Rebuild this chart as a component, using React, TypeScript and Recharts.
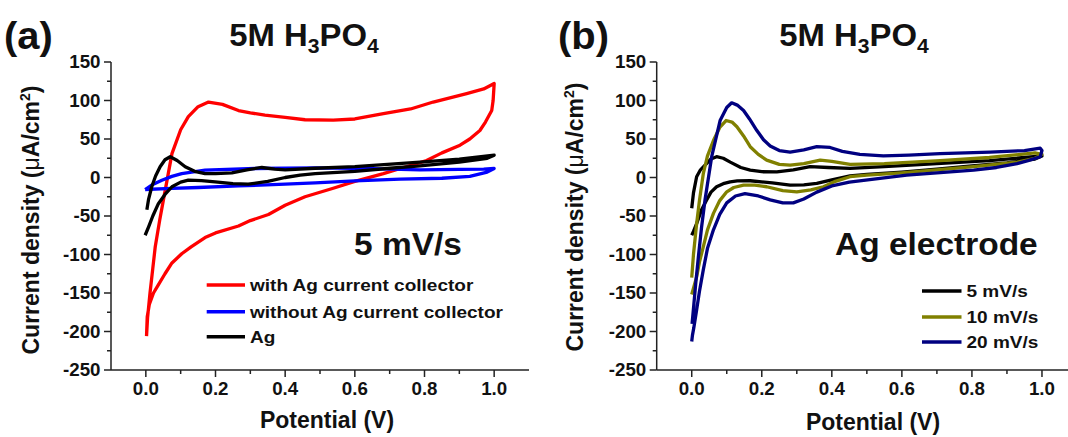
import React from "react";
import { LineChart, Line, XAxis, YAxis } from "recharts";

const FONT = "'Liberation Sans', Arial, Helvetica, sans-serif";
const AXIS = "#222";

// tick values
const xTickValues = [0, 0.1, 0.2, 0.3, 0.4, 0.5, 0.6, 0.7, 0.8, 0.9, 1.0];
const yTickValues = [
  -250, -225, -200, -175, -150, -125, -100, -75, -50, -25, 0, 25, 50, 75, 100, 125, 150,
];

// panel (a): 5 mV/s, potential (V) and current density (uA/cm2)
const withAgV = [
  0.002, 0.005, 0.012, 0.02, 0.027, 0.04, 0.055, 0.075, 0.1, 0.122, 0.15, 0.18, 0.22, 0.266,
  0.3, 0.342, 0.4, 0.457, 0.538, 0.6, 0.682, 0.76, 0.825, 0.921, 0.97, 1.0, 0.997, 0.993, 0.975,
  0.959, 0.93, 0.902, 0.85, 0.806, 0.74, 0.682, 0.6, 0.538, 0.457, 0.4, 0.352, 0.3, 0.266, 0.2,
  0.17, 0.13, 0.103, 0.075, 0.055, 0.035, 0.022, 0.01, 0.004, 0.002,
];
const withAgI = [
  -206, -182, -150, -118, -90, -55, -18, 31, 62, 79, 92, 98, 95, 87, 84, 81, 78, 75, 74.5, 76, 83,
  89, 98, 109, 115, 122, 100, 87, 72, 61, 50, 42, 32, 22, 13, 5, -5, -14, -25, -36, -48, -56,
  -63, -72, -78, -90, -99, -111, -125, -140, -150, -165, -181, -206,
];

const withoutAgV = [
  -0.002, 0.02, 0.046, 0.075, 0.103, 0.17, 0.314, 0.486, 0.65, 0.787, 0.9, 0.97, 1.0, 0.98,
  0.93, 0.85, 0.73, 0.6, 0.486, 0.4, 0.266, 0.15, 0.075, -0.002,
];
const withoutAgI = [
  -15.6, -9, -3.5, 1.5, 5, 9.5, 11.7, 12.5, 11.5, 10, 10.5, 11, 11.7, 7, 1.5, -1, -2, -4.5, -7,
  -8.5, -11, -13, -14, -15.6,
];

const agV = [
  0.003, 0.008, 0.017, 0.028, 0.041, 0.055, 0.07, 0.09, 0.113, 0.14, 0.17, 0.2, 0.247, 0.29,
  0.333, 0.37, 0.4, 0.486, 0.6, 0.787, 0.9, 1.0, 0.98, 0.9, 0.787, 0.7, 0.6, 0.486, 0.443, 0.4,
  0.35, 0.294, 0.25, 0.199, 0.16, 0.122, 0.1, 0.075, 0.055, 0.036, 0.02, 0.008, -0.002,
];
const agI = [
  -42, -28, -12, 2, 14, 23, 27, 22, 14, 8, 5, 5, 6, 10, 13, 11, 10, 12, 14, 20, 24, 29, 25, 20,
  15, 12, 8, 5, 3, 0, -5, -8.7, -8, -5.7, -4, -3.5, -6, -12, -22, -34, -50, -64, -75,
];

// panel (b): Ag electrode at three scan rates
const rate5V = [
  0.0, 0.005, 0.014, 0.025, 0.038, 0.055, 0.071, 0.09, 0.11, 0.14, 0.167, 0.2, 0.243, 0.29,
  0.338, 0.39, 0.452, 0.55, 0.7, 0.85, 1.0, 0.98, 0.9, 0.8, 0.7, 0.6, 0.5, 0.452, 0.4, 0.357,
  0.32, 0.281, 0.23, 0.167, 0.13, 0.11, 0.09, 0.071, 0.055, 0.043, 0.028, 0.014, 0.005, 0.0,
];
const rate5I = [
  -40, -20, 1, 10, 16, 24, 27, 25, 20, 13, 9.6, 7.5, 7.4, 10, 14, 13, 11.8, 14, 18, 22, 28, 24,
  19, 15, 11, 7, 4, 2, -3, -7.7, -9.5, -10, -7, -4.2, -4.5, -5.6, -8, -12, -19, -29, -42, -60,
  -70, -75,
];

const rate10V = [
  0.0, 0.005, 0.014, 0.022, 0.033, 0.045, 0.062, 0.08, 0.098, 0.115, 0.129, 0.148, 0.167, 0.19,
  0.214, 0.25, 0.281, 0.32, 0.367, 0.4, 0.452, 0.55, 0.709, 0.85, 0.98, 1.0, 0.98, 0.93, 0.805,
  0.7, 0.6, 0.5, 0.452, 0.41, 0.376, 0.34, 0.3, 0.26, 0.214, 0.18, 0.148, 0.12, 0.1, 0.08,
  0.062, 0.045, 0.033, 0.022, 0.014, 0.006, 0.0,
];
const rate10I = [
  -130, -100, -60, -30, 5, 28, 48, 65, 74, 72, 66, 54, 40, 30, 22.5, 17, 16, 18, 22.5, 21, 17,
  18, 22, 26, 32, 30, 25, 20, 14, 10, 6, 3, 1, -5, -12, -16, -18.6, -17, -12, -10, -10, -13,
  -18.6, -30, -46.6, -68, -90, -110, -129, -142, -152,
];

const rate20V = [
  0.001, 0.006, 0.012, 0.019, 0.028, 0.038, 0.057, 0.081, 0.1, 0.114, 0.13, 0.148, 0.165, 0.186,
  0.205, 0.224, 0.25, 0.281, 0.32, 0.357, 0.395, 0.43, 0.48, 0.547, 0.62, 0.709, 0.852, 0.95,
  0.995, 1.0, 0.995, 0.96, 0.929, 0.87, 0.805, 0.7, 0.614, 0.52, 0.45, 0.4, 0.357, 0.32, 0.29,
  0.26, 0.224, 0.19, 0.152, 0.125, 0.1, 0.08, 0.062, 0.045, 0.033, 0.022, 0.014, 0.006, 0.002,
  0.0,
];
const rate20I = [
  -190, -165, -135, -103, -65, -29, 27, 74, 91, 97, 94, 87, 76, 61, 49, 41, 35, 33, 36, 40, 39,
  34, 30, 28, 29, 31, 33, 35, 38, 35, 27, 22, 18, 13, 9.5, 6, 3, -2, -6, -11, -19, -28, -33,
  -33, -29, -24, -21, -24, -33, -48, -68, -92, -120, -148, -172, -195, -205, -213,
];

const zip = (v: number[], i: number[]) => v.map((x, k) => ({ v: x, i: i[k] }));

const seriesA = [
  { name: "with Ag current collector", color: "#ff0000", data: zip(withAgV, withAgI) },
  { name: "without Ag current collector", color: "#0000ff", data: zip(withoutAgV, withoutAgI) },
  { name: "Ag", color: "#000000", data: zip(agV, agI) },
];

const seriesB = [
  { name: "5 mV/s", color: "#000000", data: zip(rate5V, rate5I) },
  { name: "10 mV/s", color: "#808000", data: zip(rate10V, rate10I) },
  { name: "20 mV/s", color: "#000080", data: zip(rate20V, rate20I) },
];

const XTick = (props: any) => {
  const { x, y, payload } = props;
  const v = payload.value;
  const major = Math.round(v * 10) % 2 === 0;
  return (
    <g>
      <line x1={x} y1={y} x2={x} y2={y + (major ? 7 : 4)} stroke={AXIS} strokeWidth={1.5} />
      {major && (
        <text
          transform={`translate(${x},${y + 25}) scale(1.07,1)`}
          textAnchor="middle"
          fontSize={17.5}
          fontWeight="bold"
          fontFamily={FONT}
          fill="#111"
        >
          {v.toFixed(1)}
        </text>
      )}
    </g>
  );
};

const YTick = (props: any) => {
  const { x, y, payload } = props;
  const v = payload.value;
  const major = v % 50 === 0;
  return (
    <g>
      <line x1={x} y1={y} x2={x - (major ? 7 : 4)} y2={y} stroke={AXIS} strokeWidth={1.5} />
      {major && (
        <text
          transform={`translate(${x - 10.5},${y + 6.3}) scale(1.07,1)`}
          textAnchor="end"
          fontSize={17.5}
          fontWeight="bold"
          fontFamily={FONT}
          fill="#111"
        >
          {v}
        </text>
      )}
    </g>
  );
};

const Panel = ({ left, width, marginLeft, series }: any) => (
  <div style={{ position: "absolute", left, top: 0 }}>
    <LineChart width={width} height={437} margin={{ top: 62, right: 5, bottom: 7, left: marginLeft }}>
      <XAxis
        dataKey="v"
        type="number"
        domain={[-0.1, 1.1]}
        allowDataOverflow
        ticks={xTickValues}
        interval={0}
        tick={XTick}
        tickLine={false}
        tickSize={0}
        tickMargin={0}
        height={60}
        axisLine={{ stroke: AXIS, strokeWidth: 1.5 }}
      />
      <XAxis
        xAxisId="top"
        orientation="top"
        type="number"
        domain={[-0.1, 1.1]}
        tick={false}
        tickLine={false}
        height={0}
        axisLine={{ stroke: AXIS, strokeWidth: 1.5 }}
      />
      <YAxis
        type="number"
        domain={[-250, 150]}
        allowDataOverflow
        ticks={yTickValues}
        interval={0}
        tick={YTick}
        tickLine={false}
        tickSize={0}
        tickMargin={0}
        width={70}
        axisLine={{ stroke: AXIS, strokeWidth: 1.5 }}
      />
      <YAxis
        yAxisId="right"
        orientation="right"
        type="number"
        domain={[-250, 150]}
        tick={false}
        tickLine={false}
        width={0}
        axisLine={{ stroke: AXIS, strokeWidth: 1.5 }}
      />
      {series.map((s: any) => (
        <Line
          key={s.name}
          name={s.name}
          data={s.data}
          dataKey="i"
          type="linear"
          stroke={s.color}
          strokeWidth={3.3}
          strokeLinejoin="round"
          dot={false}
          activeDot={false}
          isAnimationActive={false}
        />
      ))}
    </LineChart>
  </div>
);

const txt = { fontFamily: FONT, fontWeight: "bold" as const, fill: "#111" };

const Legend = ({ series, x1, x2, rows }: any) => (
  <g>
    {series.map((s: any, k: number) => (
      <g key={s.name}>
        <line x1={x1} y1={rows[k]} x2={x2} y2={rows[k]} stroke={s.color} strokeWidth={3.5} />
        <text transform={`translate(${x2 + 5},${rows[k] + 6}) scale(1.12,1)`} fontSize={17} {...txt}>
          {s.name}
        </text>
      </g>
    ))}
  </g>
);

const Title = ({ cx }: { cx: number }) => (
  <text transform={`translate(${cx},46) scale(1.06,1)`} textAnchor="middle" fontSize={31} {...txt}>
    5M H
    <tspan fontSize={20} dy={7}>3</tspan>
    <tspan dy={-7}>PO</tspan>
    <tspan fontSize={20} dy={7}>4</tspan>
  </text>
);

const YTitle = ({ bx, cy }: { bx: number; cy: number }) => (
  <text transform={`translate(${bx},${cy}) rotate(-90)`} textAnchor="middle" fontSize={23} {...txt}>
    Current density (<tspan fontWeight="normal">μ</tspan>A/cm
    <tspan fontSize={14} dy={-9}>2</tspan>
    <tspan dy={9}>)</tspan>
  </text>
);

export default function App() {
  return (
    <div
      style={{
        position: "absolute",
        left: 0,
        top: 0,
        width: 1068,
        height: 437,
        overflow: "hidden",
        background: "#fff",
      }}
    >
      <Panel left={0} width={534} marginLeft={41} series={seriesA} />
      <Panel left={534} width={548} marginLeft={52.7} series={seriesB} />
      <svg
        width={1068}
        height={437}
        style={{ position: "absolute", left: 0, top: 0, pointerEvents: "none" }}
      >
        <text transform="translate(4,49) scale(1.05,1)" fontSize={38} {...txt}>(a)</text>
        <text transform="translate(558,49) scale(1.05,1)" fontSize={38} {...txt}>(b)</text>
        <Title cx={304} />
        <Title cx={854} />
        <YTitle bx={38.5} cy={220} />
        <YTitle bx={583} cy={217} />
        <text x={327} y={428} textAnchor="middle" fontSize={23} {...txt}>Potential (V)</text>
        <text x={873} y={430} textAnchor="middle" fontSize={23} {...txt}>Potential (V)</text>
        <text transform="translate(354,254.5) scale(1.08,1)" fontSize={31} {...txt}>5 mV/s</text>
        <text transform="translate(835,254.5) scale(1.08,1)" fontSize={31} {...txt}>Ag electrode</text>
        <Legend series={seriesA} x1={206.7} x2={245} rows={[285, 311.7, 336.7]} />
        <Legend series={seriesB} x1={922} x2={961.5} rows={[291, 317, 342]} />
      </svg>
    </div>
  );
}
